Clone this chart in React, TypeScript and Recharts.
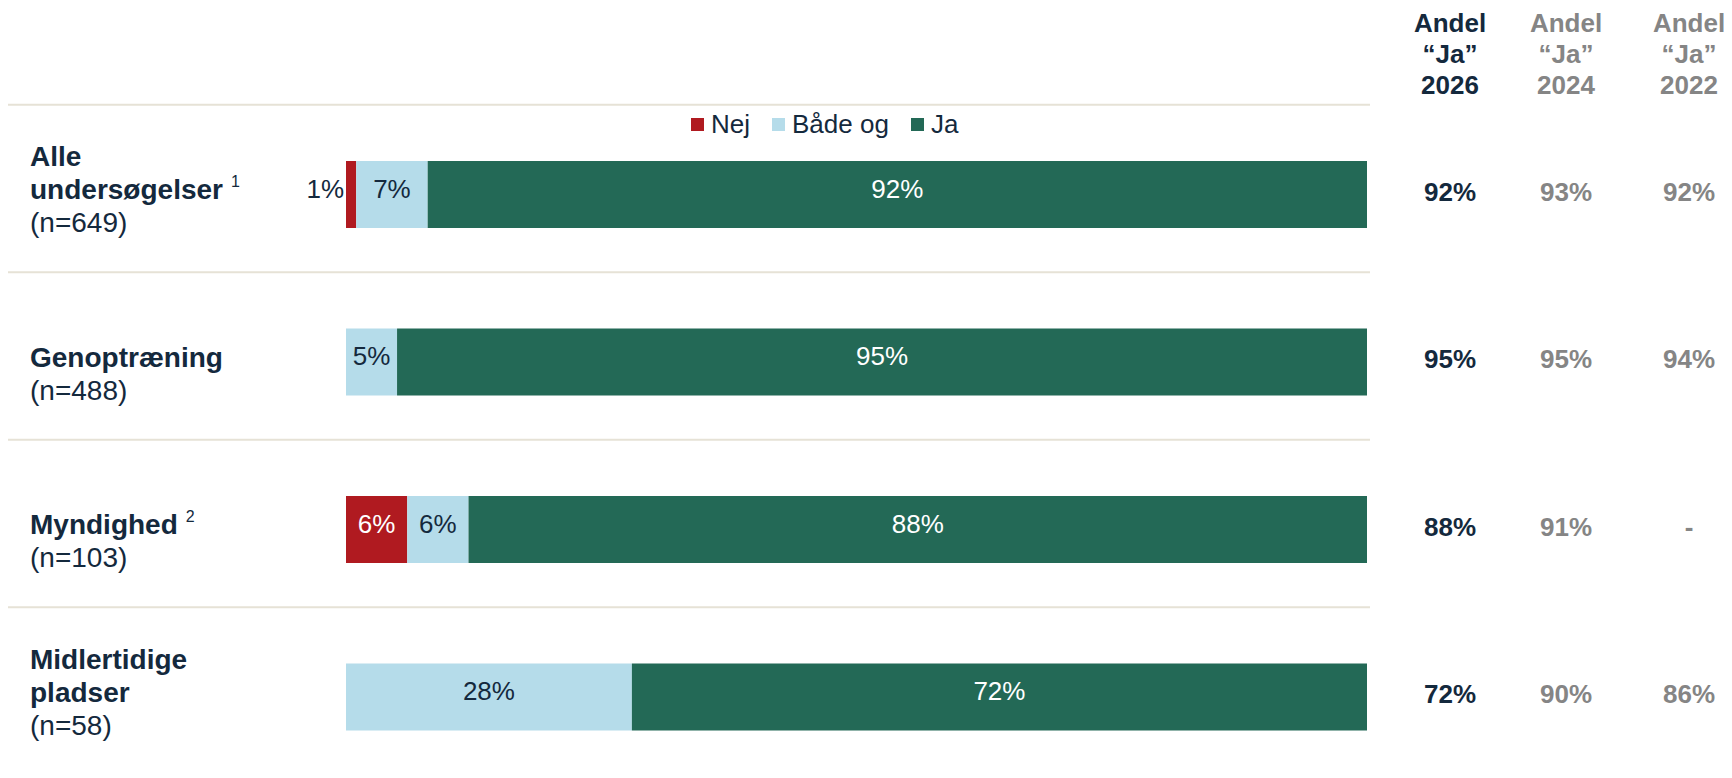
import { Bar, BarChart, LabelList, Legend, XAxis, YAxis } from 'recharts'

const CATEGORIES = ['Alle undersøgelser', 'Genoptræning', 'Myndighed', 'Midlertidige pladser']
const LABEL_LINES = [['Alle', 'undersøgelser'], ['Genoptræning'], ['Myndighed'], ['Midlertidige', 'pladser']]
const SAMPLE_SIZES = [649, 488, 103, 58]
const FOOTNOTES = ['1', '', '2', '']

const SERIES = ['Nej', 'Både og', 'Ja']
const NEJ = [1, 0, 6, 0]
const BAADE_OG = [7, 5, 6, 28]
const JA = [92, 95, 88, 72]

const YEARS = ['2026', '2024', '2022']
const ANDEL_2026 = ['92%', '95%', '88%', '72%']
const ANDEL_2024 = ['93%', '95%', '91%', '90%']
const ANDEL_2022 = ['92%', '94%', '-', '86%']

const FONT = '"Liberation Sans", Arial, sans-serif'
const NAVY = '#14293d'
const GRAY = '#858585'
const RED = '#b01a20'
const LIGHT_BLUE = '#b5dcea'
const GREEN = '#236956'
const RULE = '#e6e2d6'

const COL_X = [1450, 1566, 1689]
const ANDEL_COLUMNS = [ANDEL_2026, ANDEL_2024, ANDEL_2022]

const data = CATEGORIES.map((name, i) => ({
  name,
  nej: NEJ[i],
  baadeOg: BAADE_OG[i],
  ja: JA[i],
}))

function RowTick(props: any) {
  const { y, payload } = props
  const i = props.index ?? CATEGORIES.indexOf(payload.value)
  const lines = LABEL_LINES[i]
  const rows = [
    ...lines.map((text) => ({ text, bold: true })),
    { text: `(n=${SAMPLE_SIZES[i]})`, bold: false },
  ]
  const n = rows.length
  return (
    <g>
      <line x1={8} x2={1370} y1={y - 90} y2={y - 90} stroke={RULE} strokeWidth={2} />
      {rows.map((r, k) => (
        <text
          key={k}
          x={30}
          y={y + 28 - (n - 1 - k) * 33}
          dominantBaseline="central"
          fontFamily={FONT}
          fontSize={28}
          fontWeight={r.bold ? 700 : 400}
          fill={NAVY}
        >
          {r.text}
          {k === lines.length - 1 && FOOTNOTES[i] ? (
            <tspan dx={8} dy={-9} fontSize={16} fontWeight={400}>
              {FOOTNOTES[i]}
            </tspan>
          ) : null}
        </text>
      ))}
      {ANDEL_COLUMNS.map((col, c) => (
        <text
          key={c}
          x={COL_X[c]}
          y={y - 3}
          textAnchor="middle"
          dominantBaseline="central"
          fontFamily={FONT}
          fontSize={26}
          fontWeight={700}
          fill={c === 0 ? NAVY : GRAY}
        >
          {col[i]}
        </text>
      ))}
    </g>
  )
}

const makeLabel = (color: string) => (props: any) => {
  const { x, y, width, height, value } = props
  if (!value) return null
  const small = width < 30
  return (
    <text
      x={small ? x - 2 : x + width / 2}
      y={y + height / 2 - 6}
      textAnchor={small ? 'end' : 'middle'}
      dominantBaseline="central"
      fontFamily={FONT}
      fontSize={26}
      fill={small ? NAVY : color}
    >
      {value}%
    </text>
  )
}

function LegendContent({ payload }: any) {
  const items = [...(payload ?? [])].sort((a: any, b: any) => SERIES.indexOf(a.value) - SERIES.indexOf(b.value))
  return (
    <div style={{ display: 'flex', alignItems: 'center', fontFamily: FONT, fontSize: 26, color: NAVY, lineHeight: '30px' }}>
      {items.map((p: any, k: number) => (
        <div key={p.value} style={{ display: 'flex', alignItems: 'center', marginRight: k < items.length - 1 ? 22 : 0 }}>
          <span style={{ display: 'inline-block', width: 13, height: 13, background: p.color, marginRight: 7 }} />
          <span>{p.value}</span>
        </div>
      ))}
    </div>
  )
}

export default function App() {
  return (
    <div style={{ position: 'relative', width: 1732, height: 778, margin: -8, overflow: 'hidden', background: '#fff', fontFamily: FONT }}>
      {YEARS.map((year, c) => (
        <div
          key={year}
          style={{
            position: 'absolute',
            left: COL_X[c] - 60,
            top: 7.5,
            width: 120,
            textAlign: 'center',
            fontSize: 26,
            fontWeight: 700,
            lineHeight: '31px',
            color: c === 0 ? NAVY : GRAY,
          }}
        >
          <div>Andel</div>
          <div>“Ja”</div>
          <div>{year}</div>
        </div>
      ))}
      <BarChart
        width={1732}
        height={790}
        data={data}
        layout="vertical"
        margin={{ top: 111, right: 365, bottom: 9, left: 286 }}
      >
        <XAxis type="number" domain={[0, 100]} hide />
        <YAxis
          type="category"
          dataKey="name"
          width={60}
          axisLine={false}
          tickLine={false}
          interval={0}
          tick={<RowTick />}
        />
        <Legend
          layout="horizontal"
          verticalAlign="middle"
          align="center"
          wrapperStyle={{ top: 109, left: 691, width: 'auto', height: 'auto' }}
          content={<LegendContent />}
        />
        <Bar dataKey="nej" name="Nej" stackId="a" fill={RED} barSize={67} isAnimationActive={false}>
          <LabelList dataKey="nej" content={makeLabel('#ffffff')} />
        </Bar>
        <Bar dataKey="baadeOg" name="Både og" stackId="a" fill={LIGHT_BLUE} barSize={67} isAnimationActive={false}>
          <LabelList dataKey="baadeOg" content={makeLabel(NAVY)} />
        </Bar>
        <Bar dataKey="ja" name="Ja" stackId="a" fill={GREEN} barSize={67} isAnimationActive={false}>
          <LabelList dataKey="ja" content={makeLabel('#ffffff')} />
        </Bar>
      </BarChart>
    </div>
  )
}
